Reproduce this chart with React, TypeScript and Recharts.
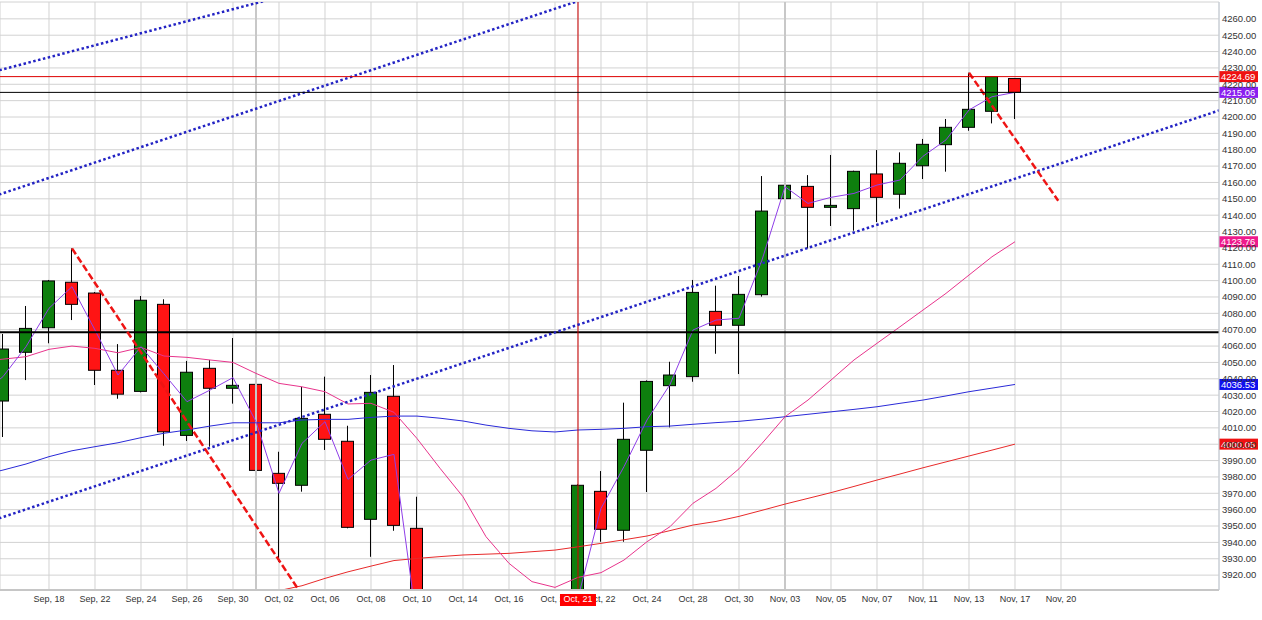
import React from "react"
import {
  ComposedChart,
  Bar,
  Line,
  XAxis,
  YAxis,
  CartesianGrid,
  ReferenceLine,
} from "recharts"

// sessions, index 0 = Sep 16
const dates = [
  "Sep, 16", "Sep, 17", "Sep, 18", "Sep, 19", "Sep, 22", "Sep, 23", "Sep, 24", "Sep, 25",
  "Sep, 26", "Sep, 29", "Sep, 30", "Oct, 01", "Oct, 02", "Oct, 03", "Oct, 06", "Oct, 07",
  "Oct, 08", "Oct, 09", "Oct, 10", "Oct, 13", "Oct, 14", "Oct, 15", "Oct, 16", "Oct, 17",
  "Oct, 20", "Oct, 21", "Oct, 22", "Oct, 23", "Oct, 24", "Oct, 27", "Oct, 28", "Oct, 29",
  "Oct, 30", "Oct, 31", "Nov, 03", "Nov, 04", "Nov, 05", "Nov, 06", "Nov, 07", "Nov, 10",
  "Nov, 11", "Nov, 12", "Nov, 13", "Nov, 14", "Nov, 17",
]
const futureDates = ["Nov, 18", "Nov, 20"]

const opens = [
  4026.4, 4056.2, 4071.2, 4099.0, 4092.4, 4045.2, 4032.3, 4085.5, 4005.4, 4046.4, 4034.2, 4036.6,
  3982.2, 3974.9, 4018.3, 4001.8, 3954.1, 4029.3, 3948.6, 3893, 3858, 3862, 3835, 3880,
  3882, 3902, 3971.2, 3947.4, 3996.3, 4035.8, 4041.3, 4081.2, 4072.7, 4091.4, 4150.1, 4157.6,
  4144.8, 4144.0, 4165.2, 4152.8, 4170.2, 4183.1, 4193.7, 4203.5, 4223.5,
]
const highs = [
  4067.4, 4084.5, 4100.4, 4119.7, 4093.0, 4061.2, 4090.6, 4088.6, 4050.9, 4051.5, 4064.9, 4046.4,
  3995.4, 4035.1, 4041.3, 4011.3, 4042.3, 4048.4, 3967.9, 3905, 3890, 3880, 3880, 3900,
  3905, 3975.5, 3983.6, 4025.4, 4039.0, 4050.4, 4100.4, 4096.9, 4102.8, 4163.9, 4174.3, 4164.5,
  4176.8, 4167.2, 4179.8, 4178.4, 4186.6, 4198.8, 4227.1, 4224.69, 4223.5,
]
const lows = [
  4004.4, 4039.2, 4061.7, 4075.9, 4036.2, 4027.8, 4031.7, 3999.1, 4002.0, 3998.5, 4024.8, 3966.3,
  3928.2, 3971.0, 3996.5, 3948.6, 3931.2, 3947.1, 3880, 3850, 3845, 3800, 3815, 3862,
  3875, 3900, 3940.4, 3940.4, 3970.8, 4010.3, 4038.2, 4055.3, 4042.9, 4090.2, 4142.1, 4119.7,
  4133.4, 4130.5, 4135.8, 4144.0, 4162.1, 4166.6, 4191.6, 4196.1, 4198.8,
]
const closes = [
  4058.2, 4070.8, 4099.8, 4085.5, 4045.2, 4030.6, 4088.0, 4007.6, 4044.0, 4034.2, 4036.0, 3984.0,
  3976.1, 4015.8, 4003.0, 3949.2, 4031.7, 3950.4, 3895, 3855, 3870, 3850, 3860, 3885,
  3900, 3974.9, 3948.0, 4003.0, 4038.4, 4042.3, 4092.8, 4072.7, 4091.6, 4142.5, 4158.3, 4144.8,
  4146.0, 4166.8, 4150.9, 4171.7, 4183.3, 4193.7, 4204.7, 4224.69, 4215.06,
]

// indicator lines start one session earlier (Sep 15)
const LINE_START = -1
const fastLine = [
  4030, 4041.3, 4059.6, 4083.1, 4096.3, 4069.8, 4042.3, 4059.6, 4043, 4026.0, 4033.1, 4040.7,
  4013.8, 3970.0, 4000.5, 4013.8, 3978.5, 3990.3, 3993.8, 3890, 3870, 3865, 3855, 3858,
  3875, 3890, 3906, 3960.8, 3986.3, 4014.8, 4036.5, 4069.8, 4075.9, 4077.0, 4112.6, 4157.4,
  4147.2, 4150.9, 4153.3, 4158.4, 4161.5, 4176, 4186, 4204.3, 4212.4, 4215.06,
]
const ma10 = [
  4050.5, 4052, 4053.5, 4058.0, 4060.0, 4058.6, 4055.9, 4059.2, 4053.9, 4053.1, 4051.5, 4050.0,
  4043.3, 4037.2, 4035.1, 4032.1, 4024.6, 4025.0, 4019.5, 4003.5, 3985.3, 3967.9, 3943.5, 3927.2,
  3916.0, 3912.5, 3918.6, 3921.5, 3929.2, 3940.4, 3949.6, 3963.9, 3973, 3985, 4000.5, 4016.8,
  4027.0, 4039.2, 4051.5, 4061.7, 4071.8, 4082.0, 4092.2, 4103.4, 4114.6, 4123.76,
]
const ma50 = [
  3981, 3984.2, 3987.9, 3992.4, 3996.0, 3998.5, 4000.9, 4004.0, 4006.7, 4008.7, 4011.1, 4013.1,
  4013.1, 4013.1, 4014.8, 4015.2, 4015.2, 4016.4, 4017.2, 4017.2, 4015.9, 4014.2, 4011.7, 4009.7,
  4008.2, 4007.5, 4008.7, 4009.1, 4009.7, 4010.7, 4011.1, 4012.2, 4013.2, 4014.0, 4015.3, 4016.8,
  4018.3, 4019.8, 4021.3, 4022.9, 4025.0, 4027.0, 4029.5, 4032.1, 4034.3, 4036.53,
]
const ma200 = [
  3870, 3873, 3876, 3879, 3882, 3885, 3888, 3891, 3894, 3897, 3900, 3903,
  3906, 3910.5, 3913.5, 3918.0, 3922.0, 3925.5, 3928.9, 3930.2, 3931.3, 3932.3, 3932.8, 3933.3,
  3934.3, 3935.3, 3937.3, 3939.4, 3941.6, 3943.9, 3947.2, 3950.6, 3952.8, 3955.9, 3959.6, 3963.4,
  3966.9, 3970.4, 3974.2, 3978.1, 3981.8, 3985.6, 3989.2, 3992.8, 3996.4, 4000.05,
]

// drawn trend lines, [session index, price]
const upperLine = [{ x: -1, y: 4225.5 }, { x: 14, y: 4280.6 }]
const channelTop = [{ x: -1, y: 4148.7 }, { x: 30, y: 4294.4 }]
const channelBottom = [{ x: -1, y: 3950.8 }, { x: 54, y: 4209.3 }]
const fallLineSep = [{ x: 3, y: 4119.7 }, { x: 13.5, y: 3897.3 }]
const fallLineNov = [{ x: 42, y: 4227.1 }, { x: 45.88, y: 4148.8 }]

const SUPPORT = 4068.5
const PREV_CLOSE = 4224.69
const LAST_CLOSE = 4215.06
const CURSOR_INDEX = 25
const MONTH_STARTS = [11, 34]

const Y_MIN = 3910.9
const Y_MAX = 4270.3
const X_MIN = -0.13
const X_MAX = 52.87

const yTicks: number[] = []
for (let v = 3920; v <= 4260; v += 10) yTicks.push(v)
const xTicks: number[] = []
for (let i = 2; i <= 46; i += 2) xTicks.push(i)
xTicks.push(CURSOR_INDEX) // last, so its red tag sits on top

const axisLabels = [...dates, ...futureDates]

const chartData = fastLine.map((_, k) => {
  const i = k + LINE_START
  const hasCandle = i >= 0 && i < dates.length
  return {
    i,
    range: hasCandle ? [lows[i], highs[i]] : null,
    o: hasCandle ? opens[i] : null,
    h: hasCandle ? highs[i] : null,
    l: hasCandle ? lows[i] : null,
    c: hasCandle ? closes[i] : null,
    fast: fastLine[k],
    ma10: ma10[k],
    ma50: ma50[k],
    ma200: ma200[k],
  }
})

const FONT = "'Liberation Sans', Arial, sans-serif"

function Candle(props: any) {
  const { x, y, width, height, payload } = props
  if (!payload || payload.o == null || !height) return null
  const { o, h, l, c } = payload
  const k = height / (h - l)
  const cx = x + width / 2
  const top = y + (h - Math.max(o, c)) * k
  const bottom = y + (h - Math.min(o, c)) * k
  const up = c >= o
  return (
    <g>
      <line x1={cx} x2={cx} y1={y} y2={y + height} stroke="#000" strokeWidth={1} />
      <rect
        x={cx - 6}
        y={top}
        width={12}
        height={Math.max(bottom - top, 1)}
        fill={up ? "#0e7f0e" : "#ff1414"}
        stroke="#000"
        strokeWidth={1}
      />
    </g>
  )
}

function DateTick(props: any) {
  const { x, y, payload } = props
  const label = axisLabels[payload.value]
  if (payload.value === CURSOR_INDEX) {
    return (
      <g>
        <rect x={x - 18} y={y - 2} width={36} height={12} fill="#ff0000" />
        <text x={x} y={y} dy="0.71em" textAnchor="middle" fontSize={9} fontFamily={FONT} fill="#fff">
          {label}
        </text>
      </g>
    )
  }
  return (
    <text x={x} y={y} dy="0.71em" textAnchor="middle" fontSize={9} fontFamily={FONT} fill="#333">
      {label}
    </text>
  )
}

function valueTag(fill: string, value: number) {
  return (props: any) => {
    const vb = props.viewBox
    if (!vb) return null
    const x = vb.x + vb.width
    const y = vb.y + (vb.height || 0) / 2
    return (
      <g>
        <rect x={x} y={y - 5.5} width={39} height={11} fill={fill} />
        <text x={x + 2} y={y} dy="0.36em" fontSize={9.5} fontFamily={FONT} fill="#fff">
          {value.toFixed(2)}
        </text>
      </g>
    )
  }
}

export default function App() {
  return (
    <div style={{ position: "fixed", left: 0, top: 0, background: "#fff" }}>
      <ComposedChart
        width={1262}
        height={620}
        data={chartData}
        margin={{ top: 2, right: 0, bottom: 0, left: 0 }}
      >
        <CartesianGrid stroke="#d2d2d2" strokeWidth={1} />
        <XAxis
          dataKey="i"
          type="number"
          domain={[X_MIN, X_MAX]}
          allowDataOverflow
          ticks={xTicks}
          interval={0}
          height={30}
          tickSize={0}
          tickMargin={6}
          tick={<DateTick />}
          axisLine={{ stroke: "#c6c6c6", strokeWidth: 2 }}
          tickLine={false}
        />
        <YAxis
          orientation="right"
          type="number"
          domain={[Y_MIN, Y_MAX]}
          allowDataOverflow
          ticks={yTicks}
          interval={0}
          width={43}
          tickSize={0}
          tickMargin={3}
          tickFormatter={(v) => v.toFixed(2)}
          tick={{ fontSize: 9.5, fill: "#333", fontFamily: FONT }}
          axisLine={{ stroke: "#c4ccd6" }}
          tickLine={false}
        />

        {MONTH_STARTS.map((m) => (
          <ReferenceLine key={m} x={m} stroke="#c8c8c8" strokeWidth={2} />
        ))}

        <Line dataKey="ma200" type="linear" stroke="#e82a2a" strokeWidth={1} dot={false} isAnimationActive={false} />
        <Line dataKey="ma50" type="linear" stroke="#2a2ad8" strokeWidth={1} dot={false} isAnimationActive={false} />
        <Line dataKey="ma10" type="linear" stroke="#e8348c" strokeWidth={1} dot={false} isAnimationActive={false} />

        <Bar dataKey="range" barSize={12} shape={<Candle />} isAnimationActive={false} />

        <Line dataKey="fast" type="linear" stroke="#8f3ee8" strokeWidth={1} dot={false} isAnimationActive={false} />

        <ReferenceLine y={SUPPORT} stroke="#000" strokeWidth={2} />
        <ReferenceLine x={CURSOR_INDEX} stroke="#d00000" strokeWidth={1} />

        <ReferenceLine segment={upperLine} ifOverflow="hidden" stroke="#2323c4" strokeWidth={2.5} strokeDasharray="2.5 2.5" />
        <ReferenceLine segment={channelTop} ifOverflow="hidden" stroke="#2323c4" strokeWidth={2.5} strokeDasharray="2.5 2.5" />
        <ReferenceLine segment={channelBottom} ifOverflow="hidden" stroke="#2323c4" strokeWidth={2.5} strokeDasharray="2.5 2.5" />
        <ReferenceLine segment={fallLineSep} ifOverflow="hidden" stroke="#ee1414" strokeWidth={2.5} strokeDasharray="7 3" />
        <ReferenceLine segment={fallLineNov} ifOverflow="hidden" stroke="#ee1414" strokeWidth={2.5} strokeDasharray="7 3" />

        <ReferenceLine y={PREV_CLOSE} stroke="#dd0000" strokeWidth={1} label={valueTag("#ee1111", PREV_CLOSE)} />
        <ReferenceLine y={LAST_CLOSE} stroke="#000" strokeWidth={1} label={valueTag("#8a1ef0", LAST_CLOSE)} />
        <ReferenceLine y={ma10[ma10.length - 1]} stroke="none" label={valueTag("#ee1a8c", ma10[ma10.length - 1])} />
        <ReferenceLine y={ma50[ma50.length - 1]} stroke="none" label={valueTag("#1010ee", ma50[ma50.length - 1])} />
        <ReferenceLine y={ma200[ma200.length - 1]} stroke="none" label={valueTag("#ee1111", ma200[ma200.length - 1])} />
      </ComposedChart>
    </div>
  )
}
